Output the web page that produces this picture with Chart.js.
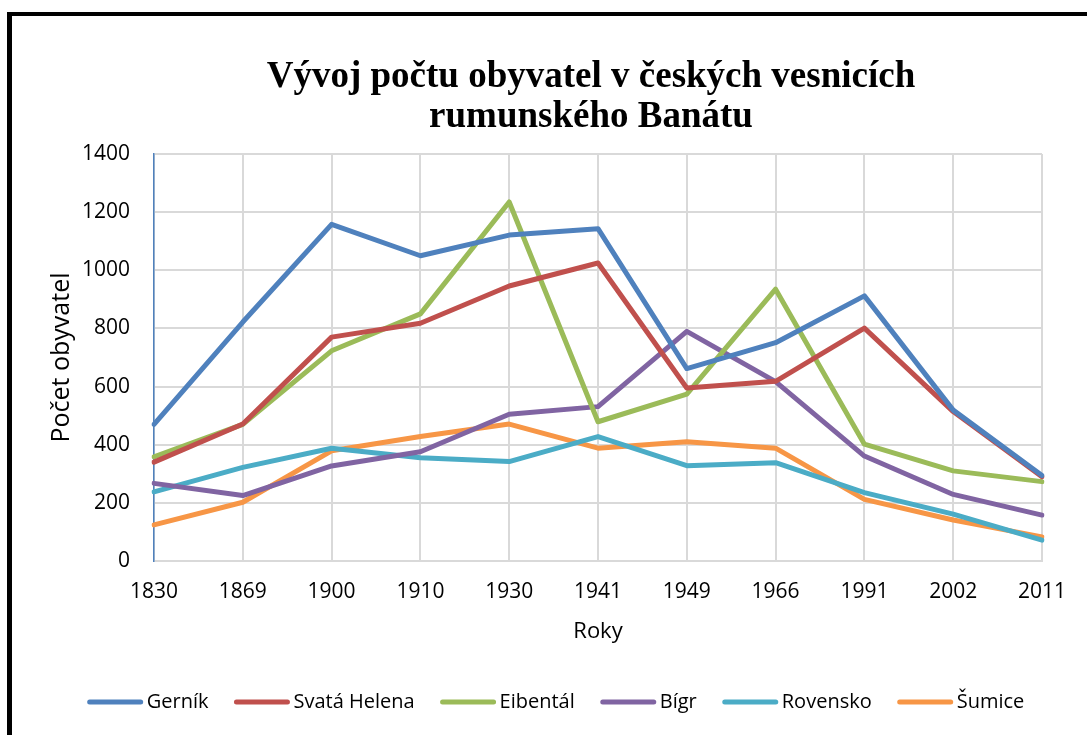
<!DOCTYPE html>
<html>
<head>
<meta charset="utf-8">
<title>Vývoj počtu obyvatel</title>
<script src="https://cdn.jsdelivr.net/npm/chart.js"></script>
<style>
  body { margin: 0; background: #fff; }
  #wrap { position: relative; width: 1087px; height: 735px; overflow: hidden; }
  #bTop { position: absolute; left: 7px; top: 12px; width: 1080px; height: 4px; background: #000; }
  #bLeft { position: absolute; left: 7px; top: 12px; width: 5px; height: 723px; background: #000; }
</style>
</head>
<body>
<div id="wrap">
  <canvas id="chart" width="1087" height="735"></canvas>
  <div id="bTop"></div>
  <div id="bLeft"></div>
</div>
<script>
  var roky = ['1830', '1869', '1900', '1910', '1930', '1941', '1949', '1966', '1991', '2002', '2011']

  var gernik = [470, 822, 1158, 1050, 1121, 1143, 662, 751, 912, 519, 294]
  var svataHelena = [340, 471, 770, 818, 946, 1025, 595, 618, 801, 514, 290]
  var eibental = [358, 470, 723, 850, 1235, 479, 574, 935, 402, 310, 273]
  var bigr = [267, 225, 327, 376, 505, 531, 790, 617, 361, 229, 158]
  var rovensko = [238, 322, 388, 355, 342, 428, 328, 338, 235, 161, 72]
  var sumice = [124, 202, 379, 428, 471, 388, 410, 388, 212, 141, 83]

  var nazvy = ['Gerník', 'Svatá Helena', 'Eibentál', 'Bígr', 'Rovensko', 'Šumice']
  var barvy = ['#4F81BD', '#C0504D', '#9BBB59', '#8064A2', '#4BACC6', '#F79646']
  var hodnoty = [gernik, svataHelena, eibental, bigr, rovensko, sumice]

  var titulek = ['Vývoj počtu obyvatel v českých vesnicích', 'rumunského Banátu']

  var datasets = []
  for (var i = 0; i < nazvy.length; i++) {
    datasets.push({
      label: nazvy[i],
      data: hodnoty[i],
      borderColor: barvy[i],
      backgroundColor: barvy[i],
      borderWidth: 5,
      pointRadius: 0,
      tension: 0,
      fill: false,
      borderCapStyle: 'round',
      borderJoinStyle: 'round'
    })
  }

  // title + legend drawn by hand so they sit where excel put them
  var kresli = {
    id: 'kresli',
    afterDraw: function(chart) {
      var ctx = chart.ctx
      ctx.save()
      ctx.fillStyle = '#000'
      ctx.textAlign = 'center'
      ctx.textBaseline = 'alphabetic'
      ctx.font = 'bold 37px "Liberation Serif", "Times New Roman", serif'
      ctx.fillText(titulek[0], 591, 87)
      ctx.fillText(titulek[1], 591, 127)

      ctx.font = '20px "Open Sans", sans-serif'
      ctx.textAlign = 'left'
      ctx.textBaseline = 'middle'
      var delka = 55, mezera = 4, odstup = 26
      var sirka = 0
      chart.data.datasets.forEach(function(ds, j) {
        sirka += delka + mezera + ctx.measureText(ds.label).width
        if (j > 0) sirka += odstup
      })
      var x = 556 - sirka / 2
      var y = 702
      chart.data.datasets.forEach(function(ds) {
        ctx.strokeStyle = ds.borderColor
        ctx.lineWidth = 5
        ctx.lineCap = 'round'
        ctx.beginPath()
        ctx.moveTo(x + 2, y)
        ctx.lineTo(x + delka - 2, y)
        ctx.stroke()
        x += delka + mezera
        ctx.fillStyle = '#000'
        ctx.fillText(ds.label, x, y)
        x += ctx.measureText(ds.label).width + odstup
      })
      ctx.restore()
    }
  }

  var ctx = document.getElementById('chart').getContext('2d')
  var myChart = new Chart(ctx, {
    type: 'line',
    data: {
      labels: roky,
      datasets: datasets
    },
    options: {
      responsive: false,
      animation: false,
      devicePixelRatio: 1,
      layout: {
        padding: { top: 154, left: 30, right: 45, bottom: 84 }
      },
      plugins: {
        legend: { display: false },
        title: { display: false },
        tooltip: { enabled: false }
      },
      scales: {
        x: {
          offset: false,
          afterFit: function(s) { s.height = 90 },
          grid: { color: '#d9d9d9', lineWidth: 2, drawTicks: false },
          border: { color: '#d9d9d9', width: 2 },
          ticks: {
            color: '#000',
            padding: 18,
            maxRotation: 0,
            font: { family: '"Open Sans", sans-serif', size: 21 }
          },
          title: {
            display: true,
            text: 'Roky',
            color: '#000',
            padding: 6,
            font: { family: '"Open Sans", sans-serif', size: 22 }
          }
        },
        y: {
          min: 0,
          max: 1400,
          afterFit: function(s) { s.width = 124 },
          grid: { color: '#d9d9d9', lineWidth: 2, drawTicks: false },
          border: { color: '#4F81BD', width: 1.5 },
          ticks: {
            stepSize: 200,
            color: '#000',
            padding: 24,
            font: { family: '"Open Sans", sans-serif', size: 21 },
            callback: function(v) { return String(v) }
          },
          title: {
            display: true,
            text: 'Počet obyvatel',
            color: '#000',
            padding: 17,
            font: { family: '"Open Sans", sans-serif', size: 25 }
          }
        }
      }
    },
    plugins: [kresli]
  })
</script>
</body>
</html>
